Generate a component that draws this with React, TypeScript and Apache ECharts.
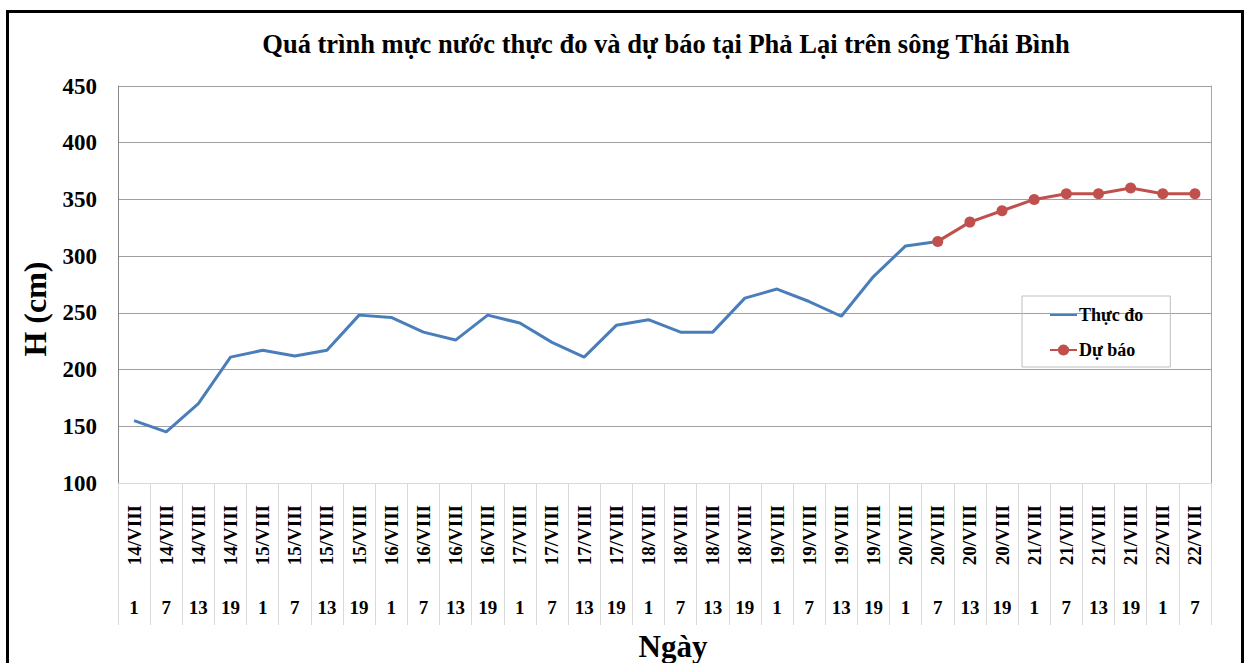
import React, { useEffect, useRef } from "react";
import * as echarts from "echarts";

const dayLabels = [
  "14/VIII", "14/VIII", "14/VIII", "14/VIII",
  "15/VIII", "15/VIII", "15/VIII", "15/VIII",
  "16/VIII", "16/VIII", "16/VIII", "16/VIII",
  "17/VIII", "17/VIII", "17/VIII", "17/VIII",
  "18/VIII", "18/VIII", "18/VIII", "18/VIII",
  "19/VIII", "19/VIII", "19/VIII", "19/VIII",
  "20/VIII", "20/VIII", "20/VIII", "20/VIII",
  "21/VIII", "21/VIII", "21/VIII", "21/VIII",
  "22/VIII", "22/VIII",
];
const hourLabels = [
  "1", "7", "13", "19", "1", "7", "13", "19", "1", "7", "13", "19",
  "1", "7", "13", "19", "1", "7", "13", "19", "1", "7", "13", "19",
  "1", "7", "13", "19", "1", "7", "13", "19", "1", "7",
];
const measured = [
  155, 145, 170, 211, 217, 212, 217, 248, 246, 233, 226, 248, 241,
  224, 211, 239, 244, 233, 233, 263, 271, 260, 247, 282, 309, 313,
];
const forecast = [
  null, null, null, null, null, null, null, null, null, null, null, null, null,
  null, null, null, null, null, null, null, null, null, null, null, null,
  313, 330, 340, 350, 355, 355, 360, 355, 355,
];
const yTicks = { min: 100, max: 450, interval: 50 };

const titleText = "Quá trình mực nước thực đo và dự báo tại Phả Lại trên sông Thái Bình";
const serif = '"Liberation Serif", "Times New Roman", serif';

export default function App() {
  const ref = useRef<HTMLDivElement>(null);
  useEffect(() => {
    if (!ref.current) return;
    const chart = echarts.init(ref.current, null, { renderer: "svg" });
    chart.setOption({
      animation: false,
      backgroundColor: "#ffffff",
      textStyle: { fontFamily: serif },
      grid: {
        left: 118,
        right: 43,
        top: 86,
        bottom: 180,
        containLabel: false,
        outerBoundsMode: "none",
      },
      legend: {
        data: [
          { name: "Thực đo", itemStyle: { opacity: 0 } },
          { name: "Dự báo" },
        ],
        orient: "vertical",
        left: 1022,
        top: 296,
        padding: [9, 27, 7, 27],
        itemGap: 15,
        itemWidth: 27,
        itemHeight: 14,
        borderColor: "#bfbfbf",
        borderWidth: 1,
        textStyle: {
          fontFamily: serif,
          fontWeight: "bold",
          fontSize: 18,
          color: "#000",
          lineHeight: 20,
          padding: [0, 0, 0, -3],
        },
      },
      xAxis: [
        {
          type: "category",
          data: dayLabels,
          boundaryGap: true,
          position: "bottom",
          axisLine: { show: true, lineStyle: { color: "#d9d9d9", width: 1 } },
          axisTick: {
            show: true,
            interval: 0,
            alignWithLabel: false,
            length: 142,
            lineStyle: { color: "#d9d9d9", width: 1 },
          },
          axisLabel: {
            interval: 0,
            rotate: 90,
            margin: 22,
            fontFamily: serif,
            fontWeight: "bold",
            fontSize: 19,
            color: "#000",
          },
          splitLine: { show: false },
        },
        {
          type: "category",
          data: hourLabels,
          boundaryGap: true,
          position: "bottom",
          offset: 0,
          axisLine: { show: false },
          axisTick: { show: false },
          axisLabel: {
            interval: 0,
            margin: 115,
            fontFamily: serif,
            fontWeight: "bold",
            fontSize: 19,
            color: "#000",
          },
          splitLine: { show: false },
        },
      ],
      yAxis: [
        {
          type: "value",
          min: yTicks.min,
          max: yTicks.max,
          interval: yTicks.interval,
          axisLine: { show: true, lineStyle: { color: "#868686", width: 1 } },
          axisTick: { show: false },
          axisLabel: {
            margin: 21,
            fontFamily: serif,
            fontWeight: "bold",
            fontSize: 23,
            color: "#000",
          },
          splitLine: { show: true, lineStyle: { color: "#a0a0a0", width: 1 } },
        },
        {
          type: "value",
          min: yTicks.min,
          max: yTicks.max,
          interval: yTicks.interval,
          position: "right",
          axisLine: { show: true, lineStyle: { color: "#a6a6a6", width: 1 } },
          axisTick: { show: false },
          axisLabel: { show: false },
          splitLine: { show: false },
        },
      ],
      series: [
        {
          name: "Thực đo",
          type: "line",
          data: measured,
          xAxisIndex: 0,
          yAxisIndex: 0,
          symbol: "none",
          lineStyle: { color: "#4a7ebb", width: 3 },
          itemStyle: { color: "#4a7ebb" },
          z: 3,
        },
        {
          name: "Dự báo",
          type: "line",
          data: forecast,
          xAxisIndex: 0,
          yAxisIndex: 0,
          symbol: "circle",
          symbolSize: 11,
          showSymbol: true,
          connectNulls: false,
          lineStyle: { color: "#c0504d", width: 3 },
          itemStyle: { color: "#c0504d" },
          z: 4,
        },
      ],
      graphic: [
        {
          type: "rect",
          shape: { x: 7.5, y: 11.5, width: 1235, height: 700 },
          style: { fill: "none", stroke: "#000", lineWidth: 3 },
          silent: true,
          z: 100,
        },
        {
          type: "text",
          x: 666,
          y: 44,
          style: {
            text: titleText,
            fontFamily: serif,
            fontWeight: "bold",
            fontSize: 26.5,
            fill: "#000",
            align: "center",
            verticalAlign: "middle",
          },
        },
        {
          type: "text",
          x: 35,
          y: 309,
          rotation: Math.PI / 2,
          style: {
            text: "H (cm)",
            fontFamily: serif,
            fontWeight: "bold",
            fontSize: 32,
            fill: "#000",
            align: "center",
            verticalAlign: "middle",
          },
        },
        {
          type: "text",
          x: 673,
          y: 646,
          style: {
            text: "Ngày",
            fontFamily: serif,
            fontWeight: "bold",
            fontSize: 31,
            fill: "#000",
            align: "center",
            verticalAlign: "middle",
          },
        },
      ],
    });
    return () => chart.dispose();
  }, []);
  return (
    <div
      ref={ref}
      style={{ position: "absolute", left: 0, top: 0, width: 1254, height: 663 }}
    />
  );
}
